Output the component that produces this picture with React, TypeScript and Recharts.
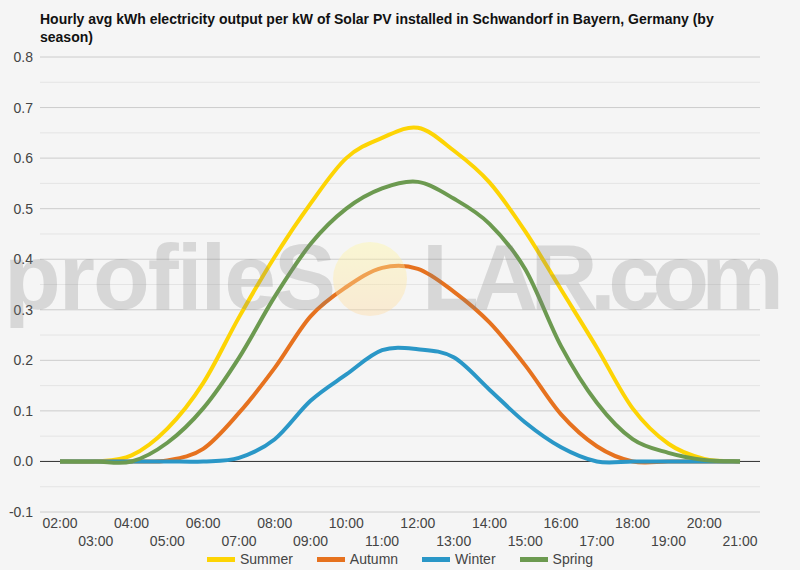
import React from "react"
import {
  LineChart,
  Line,
  XAxis,
  YAxis,
  CartesianGrid,
  ReferenceLine,
  Legend,
} from "recharts"

const HOURS = [
  "02:00", "03:00", "04:00", "05:00", "06:00", "07:00", "08:00", "09:00", "10:00", "11:00",
  "12:00", "13:00", "14:00", "15:00", "16:00", "17:00", "18:00", "19:00", "20:00", "21:00",
]

const SUMMER = [0, 0, 0.012, 0.065, 0.155, 0.285, 0.405, 0.51, 0.6, 0.64, 0.66, 0.615, 0.552, 0.455, 0.34, 0.225, 0.105, 0.035, 0.005, 0]
const AUTUMN = [0, 0, 0, 0.002, 0.025, 0.096, 0.185, 0.287, 0.345, 0.383, 0.381, 0.336, 0.275, 0.19, 0.093, 0.03, 0, 0, 0, 0]
const WINTER = [0, 0, 0, 0, 0, 0.007, 0.044, 0.12, 0.172, 0.22, 0.222, 0.206, 0.142, 0.077, 0.028, 0, 0, 0, 0, 0]
const SPRING = [0, 0, 0, 0.037, 0.105, 0.205, 0.326, 0.43, 0.5, 0.54, 0.553, 0.52, 0.47, 0.38, 0.228, 0.116, 0.044, 0.017, 0.003, 0]

const Y_TICKS = [-0.1, 0, 0.1, 0.2, 0.3, 0.4, 0.5, 0.6, 0.7, 0.8]
const Y_MINOR = [-0.05, 0.05, 0.15, 0.25, 0.35, 0.45, 0.55, 0.65, 0.75]

const SERIES = [
  { key: "Summer", color: "#fdd404" },
  { key: "Autumn", color: "#e6721f" },
  { key: "Winter", color: "#2a97c7" },
  { key: "Spring", color: "#6c9a50" },
]

const data = HOURS.map((hour, i) => ({
  hour,
  Summer: SUMMER[i],
  Autumn: AUTUMN[i],
  Winter: WINTER[i],
  Spring: SPRING[i],
}))

const FONT = "'Liberation Sans', Arial, sans-serif"

// catmull-rom style smoothing, closer to the "function" curves of the original
const K = 1 / 6
const smoothCurve = (context: any) => {
  let pts: number[][] = []
  return {
    areaStart() {},
    areaEnd() {},
    lineStart() {
      pts = []
    },
    point(x: number, y: number) {
      pts.push([+x, +y])
    },
    lineEnd() {
      if (!pts.length) return
      context.moveTo(pts[0][0], pts[0][1])
      for (let i = 0; i < pts.length - 1; i++) {
        const p0 = pts[i - 1] || pts[i]
        const p1 = pts[i]
        const p2 = pts[i + 1]
        const p3 = pts[i + 2] || p2
        context.bezierCurveTo(
          p1[0] + (p2[0] - p0[0]) * K,
          p1[1] + (p2[1] - p0[1]) * K,
          p2[0] - (p3[0] - p1[0]) * K,
          p2[1] - (p3[1] - p1[1]) * K,
          p2[0],
          p2[1]
        )
      }
    },
  }
}

function HourTick(props: any) {
  const { x, y, payload, index } = props
  const dy = index % 2 === 0 ? 16 : 34
  return (
    <text x={x} y={y + dy} textAnchor="middle" fontSize={14} fill="#444" fontFamily={FONT}>
      {payload.value}
    </text>
  )
}

function SeasonLegend() {
  return (
    <div
      style={{
        display: "flex",
        justifyContent: "center",
        alignItems: "center",
        height: 22,
        fontSize: 14,
        color: "#444",
        fontFamily: FONT,
      }}
    >
      {SERIES.map((s, i) => (
        <div key={s.key} style={{ display: "flex", alignItems: "center", marginLeft: i === 0 ? 0 : 24 }}>
          <span style={{ display: "inline-block", width: 28, height: 5, background: s.color, marginRight: 5 }} />
          <span>{s.key}</span>
        </div>
      ))}
    </div>
  )
}

function Watermark() {
  return (
    <svg
      width={800}
      height={570}
      style={{ position: "absolute", left: 0, top: 0, pointerEvents: "none" }}
    >
      <defs>
        <linearGradient id="sun" x1="0" y1="0" x2="0" y2="1">
          <stop offset="0%" stopColor="#fff7a0" />
          <stop offset="100%" stopColor="#ffd9a0" />
        </linearGradient>
      </defs>
      <g fontFamily={FONT} fontWeight="bold" fontSize={93} fill="rgba(128,128,128,0.25)">
        <text x={4} y={309} textLength={332} lengthAdjust="spacing">profileS</text>
        <text x={422} y={309} textLength={362} lengthAdjust="spacing">LAR.com</text>
      </g>
      <circle cx={370} cy={279} r={37} fill="url(#sun)" opacity={0.4} />
    </svg>
  )
}

export default function App() {
  return (
    <div
      style={{
        position: "fixed",
        left: 0,
        top: 0,
        width: 800,
        height: 570,
        background: "#f5f5f5",
        fontFamily: FONT,
      }}
    >
      <div
        style={{
          position: "absolute",
          left: 40,
          top: 10,
          fontSize: 14,
          fontWeight: "bold",
          color: "#111",
          lineHeight: "18px",
        }}
      >
        Hourly avg kWh electricity output per kW of Solar PV installed in Schwandorf in Bayern, Germany (by
        <br />
        season)
      </div>
      <LineChart
        width={800}
        height={570}
        data={data}
        margin={{ top: 57, right: 40, bottom: 0, left: 0 }}
        style={{ position: "absolute", left: 0, top: 0 }}
      >
        <CartesianGrid horizontal vertical={false} horizontalValues={Y_MINOR} stroke="#e4e4e4" />
        <CartesianGrid horizontal vertical={false} horizontalValues={Y_TICKS} stroke="#cccccc" />
        <XAxis
          dataKey="hour"
          interval={0}
          axisLine={false}
          tickLine={false}
          tickSize={0}
          tickMargin={0}
          height={36}
          padding={{ left: 20, right: 20 }}
          tick={<HourTick />}
        />
        <YAxis
          domain={[-0.1, 0.8]}
          ticks={Y_TICKS}
          width={40}
          axisLine={false}
          tickLine={false}
          tickSize={0}
          tickMargin={7}
          tickFormatter={(v: number) => v.toFixed(1)}
          tick={{ fontSize: 14, fill: "#444", fontFamily: FONT }}
        />
        <ReferenceLine y={0} stroke="#333" strokeWidth={1} />
        {SERIES.map((s) => (
          <Line
            key={s.key}
            type={smoothCurve as any}
            dataKey={s.key}
            stroke={s.color}
            strokeWidth={4}
            dot={false}
            activeDot={false}
            isAnimationActive={false}
          />
        ))}
        <Legend
          verticalAlign="bottom"
          height={22}
          wrapperStyle={{ left: 0, width: 800 }}
          content={<SeasonLegend />}
        />
      </LineChart>
      <Watermark />
    </div>
  )
}
